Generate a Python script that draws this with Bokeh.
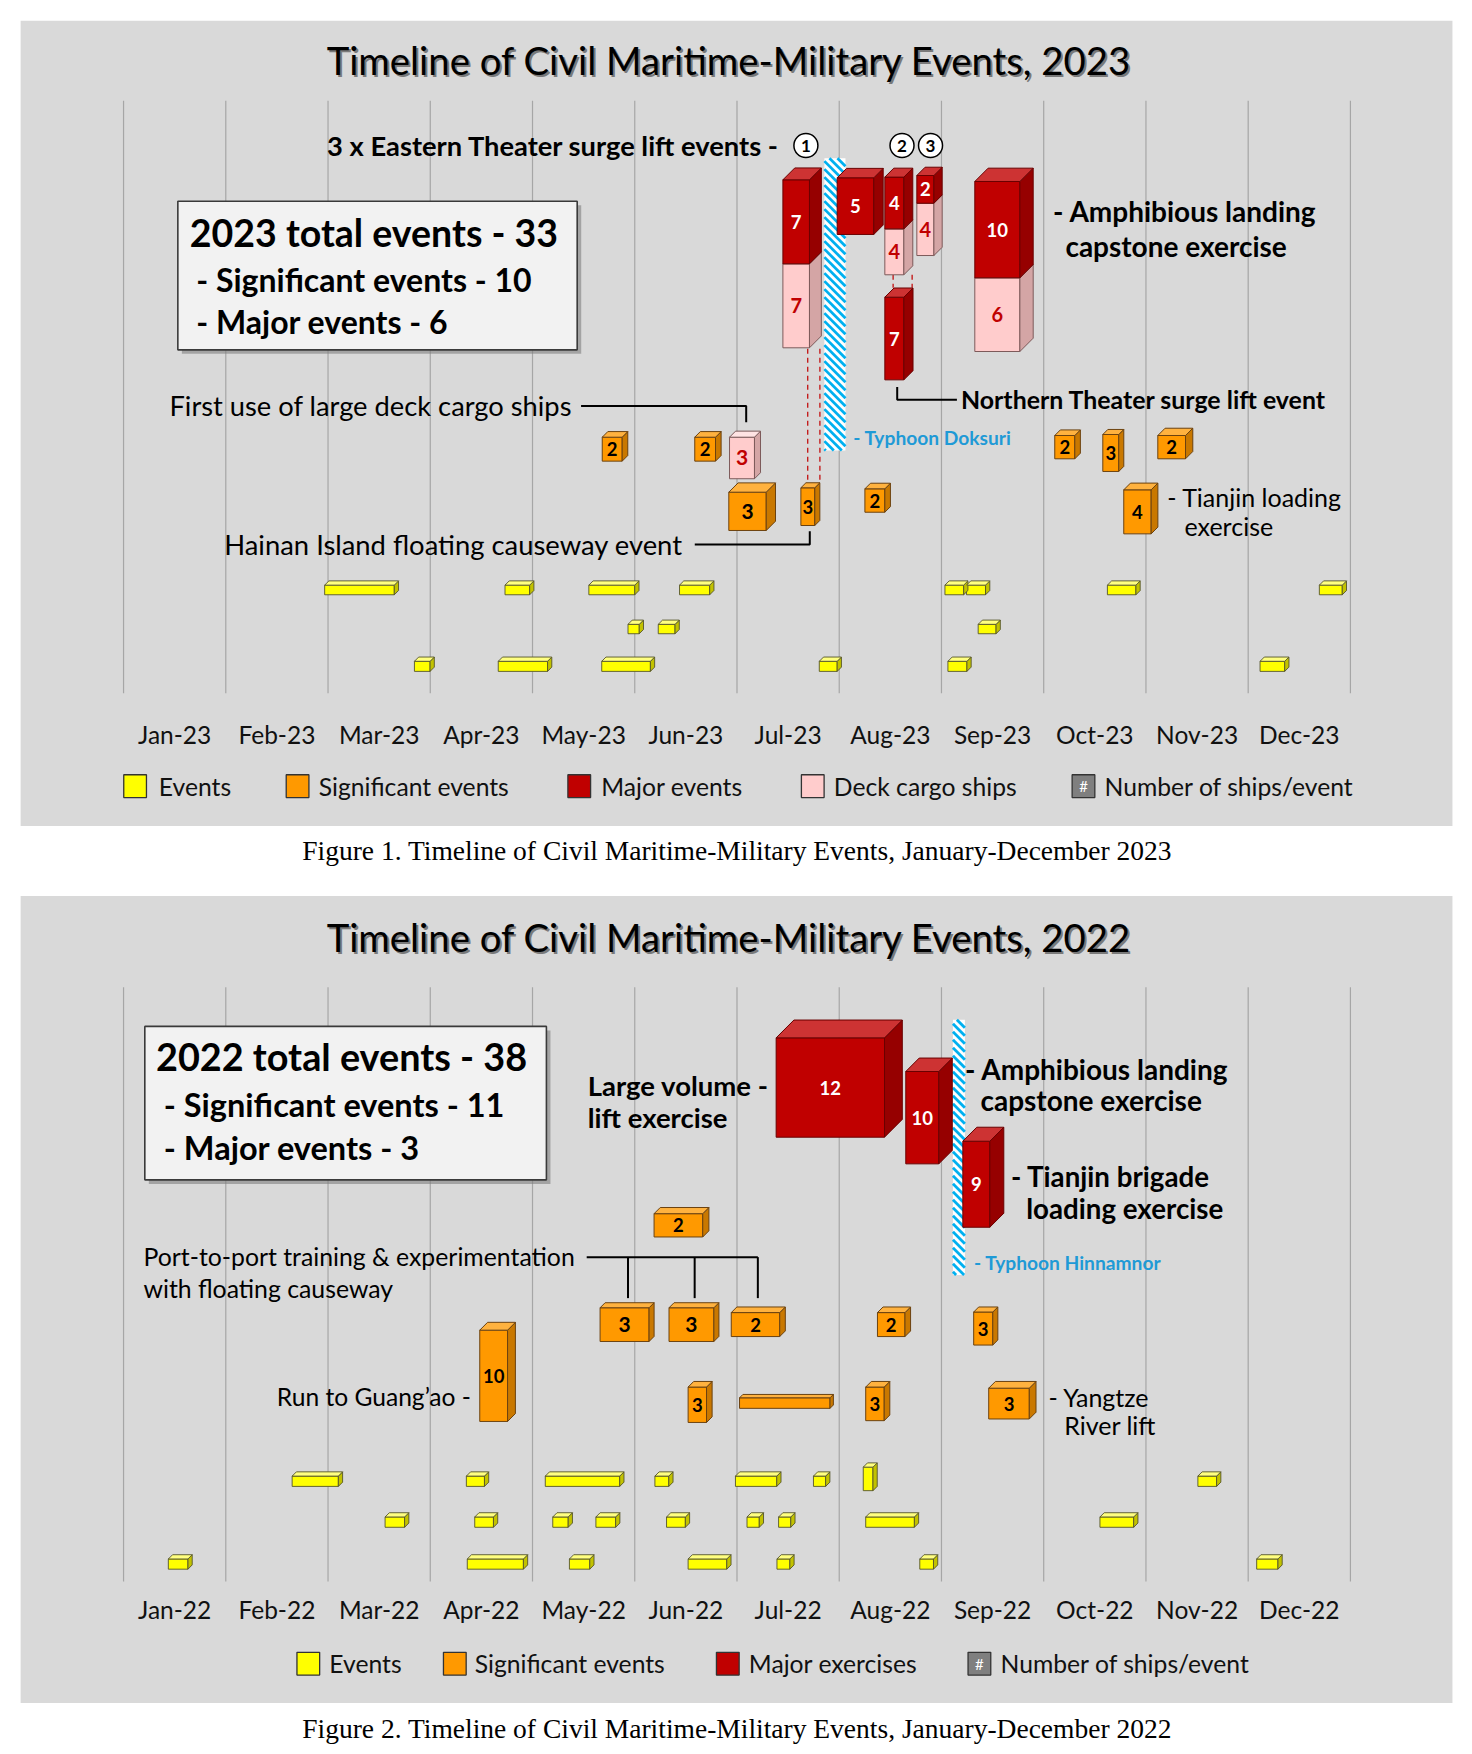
import numpy as np
from bokeh.plotting import figure
from bokeh.models import Range1d
from bokeh.core.properties import value
from bokeh.embed import file_html
from bokeh.resources import INLINE

# ====================== DATA ======================
# x values are in months since 1 January (0 = start of Jan, 12 = end of Dec)
months_2023 = ["Jan-23", "Feb-23", "Mar-23", "Apr-23", "May-23", "Jun-23",
               "Jul-23", "Aug-23", "Sep-23", "Oct-23", "Nov-23", "Dec-23"]
months_2022 = ["Jan-22", "Feb-22", "Mar-22", "Apr-22", "May-22", "Jun-22",
               "Jul-22", "Aug-22", "Sep-22", "Oct-22", "Nov-22", "Dec-22"]

# ---- 2023: events (yellow) ----
ev23_start = [1.967, 3.731, 4.551, 5.438, 8.034, 8.245, 9.623, 11.696,
              4.934, 5.230, 8.359,
              2.845, 3.665, 4.677, 6.805, 8.063, 11.116]
ev23_end = [2.648, 3.972, 5.000, 5.733, 8.217, 8.431, 9.902, 11.920,
            5.044, 5.394, 8.534,
            2.998, 4.147, 5.153, 6.980, 8.249, 11.357]
ev23_lane = [1] * 8 + [2] * 3 + [3] * 6

# ---- 2023: significant events (orange) ----
sig23_start = [4.682, 5.587, 5.920, 6.625, 7.251, 9.108, 9.578, 10.116, 9.783]
sig23_end = [4.877, 5.790, 6.286, 6.761, 7.446, 9.304, 9.734, 10.387, 10.051]
sig23_ships = [2, 2, 3, 3, 2, 2, 3, 2, 4]

# ---- 2023: significant event using deck cargo ships (pink) ----
deck23_start = [5.927]
deck23_end = [6.171]
deck23_ships = [3]

# ---- 2023: major events (red = ships, pink = deck cargo ships) ----
maj23_start = [6.449, 6.980, 7.446, 7.446, 7.759, 8.326]
maj23_end = [6.709, 7.338, 7.632, 7.632, 7.926, 8.767]
maj23_ships = [7, 5, 4, 7, 2, 10]
maj23_deck = [7, 0, 4, 0, 4, 6]

# ---- 2023: typhoon ----
typh23_start, typh23_end = 6.855, 7.061

# ---- 2022: events (yellow) ----
ev22_start = [1.649, 3.353, 4.125, 5.197, 5.985, 6.748, 7.235, 10.508,
              2.558, 3.435, 4.198, 4.620, 5.311, 6.098, 6.407, 7.259, 9.550,
              0.438, 3.362, 4.361, 5.522, 6.391, 7.788, 11.083]
ev22_end = [2.101, 3.530, 4.853, 5.333, 6.389, 6.867, 7.330, 10.691,
            2.749, 3.618, 4.349, 4.813, 5.495, 6.218, 6.526, 7.735, 9.880,
            0.630, 3.911, 4.560, 5.900, 6.517, 7.922, 11.291]
ev22_lane = [1] * 8 + [2] * 9 + [3] * 7

# ---- 2022: significant events (orange) ----
sig22_start = [5.189, 4.661, 5.335, 5.944, 7.374, 8.315, 3.484, 5.522, 6.025, 7.259, 8.462]
sig22_end = [5.665, 5.140, 5.774, 6.418, 7.643, 8.502, 3.756, 5.702, 6.910, 7.440, 8.859]
sig22_ships = ["2", "3", "3", "2", "2", "3", "10", "3", "", "3", "3"]

# ---- 2022: major exercises (red) ----
maj22_start = [6.383, 7.651, 8.209]
maj22_end = [7.443, 7.974, 8.473]
maj22_ships = [12, 10, 9]

# ---- 2022: typhoon ----
typh22_start, typh22_end = 8.112, 8.229

# ====================== LAYOUT (vertical placement, styles) ======================
# vertical unit: reference pixel rows, measured top-down
lane23 = {1: (522.0, 530.6), 2: (557.0, 565.4), 3: (590.0, 599.0)}
lane22 = {1: (1317.5, 1326.7), 2: (1354.0, 1363.2), 3: (1391.5, 1400.6)}
ev22_override = {6: (1309.5, 1330.5)}       # the tall narrow event in August
sig23_y = [(389.9, 411.3), (389.9, 411.3), (439.0, 473.2), (435.1, 468.75), (436.0, 456.9),
           (388.4, 409.2), (387.5, 420.5), (388.4, 409.2), (436.9, 476.2)]
sig23_depth = [5, 5, 8.3, 4.5, 5, 5, 4.5, 6.5, 6]
deck23_y = [(389.9, 427.0)]
deck23_depth = [5.4]
maj23_y = [(160.1, 235.1, 310.1), (158.3, 208.9, 208.9), (157.7, 203.9, 244.9),
           (264.9, 338.7, 338.7), (156.25, 181.0, 227.7), (161.6, 247.6, 313.4)]
maj23_depth = [10.6, 8.4, 8.0, 8.2, 7.4, 11.9]
typh23_y = (140.8, 401.8)
sig22_y = [(1083.2, 1104.0), (1167.2, 1197.3), (1167.2, 1197.3), (1171.5, 1192.9), (1171.5, 1192.9),
           (1171.0, 1200.5), (1187.2, 1268.7), (1238.0, 1269.6), (1247.6, 1257.0), (1238.0, 1268.0),
           (1239.0, 1266.5)]
sig22_depth = [5.5, 4.5, 4.5, 5, 5, 4.5, 7, 5, 3, 5, 6]
maj22_y = [(926.2, 1014.9), (956.25, 1038.7), (1018.5, 1095.3)]
maj22_depth = [15.9, 12.0, 12.5]
typh22_y = (910.1, 1138.0)
YEL_DEPTH = 3.8

C_YEL = ("#ffff00", "#ffff80", "#c2c200", "#55552a")
C_ORA = ("#ff9900", "#ffb23f", "#c97800", "#6b4210")
C_RED = ("#c00000", "#cd3333", "#960000", "#6a0000")
C_PNK = ("#ffcccc", "#ffe3e3", "#d4a5a5", "#7d5a5a")
PANEL = "#d9d9d9"
GRID = "#a6a6a6"
BLUE = "#1f9ad6"
FONT = "Lato"

# ====================== FIGURE ======================
W, H = 1456, 1752
PXM = 102.24                  # screen px per month
X0 = -123.05 / PXM
X1 = X0 + W / PXM
SY = 1.12
OFF = 0.0
Y_TOP = OFF / SY
Y_BOT = (H + OFF) / SY
MU = 91.4                     # reference px per month

p = figure(width=W, height=H, x_range=Range1d(X0, X1), y_range=Range1d(Y_BOT, Y_TOP),
           output_backend="svg", toolbar_location=None,
           x_axis_location=None, y_axis_location=None,
           min_border=0, min_border_left=0, min_border_right=0,
           min_border_top=0, min_border_bottom=0)
p.xgrid.visible = False
p.ygrid.visible = False
p.outline_line_color = None
p.background_fill_color = "white"
p.border_fill_color = "white"


def txt(x, y, s, size, bold=False, align="left", color="black", font=FONT, **kw):
    p.text(x=[x], y=[y], text=[s], text_font=value(font), text_font_size=f"{size}px",
           text_font_style="bold" if bold else "normal", text_align=align,
           text_baseline="middle", text_color=color, **kw)


def boxes(x0, x1, yt, yb, depth, cols, lw=1.0, top=True):
    x0 = np.asarray(x0, float); x1 = np.asarray(x1, float)
    yt = np.asarray(yt, float); yb = np.asarray(yb, float)
    dd = np.asarray(depth, float) * np.ones_like(x0)
    dm = dd / MU
    front, topc, side, line = cols
    p.quad(left=x0, right=x1, top=yt, bottom=yb, fill_color=front, line_color=line, line_width=lw)
    sx = [[b, b + m, b + m, b] for b, m in zip(x1, dm)]
    sy = [[t, t - e, u - e, u] for t, u, e in zip(yt, yb, dd)]
    p.patches(sx, sy, fill_color=side, line_color=line, line_width=lw)
    if top:
        tx = [[a, a + m, b + m, b] for a, b, m in zip(x0, x1, dm)]
        ty = [[t, t - e, t - e, t] for t, e in zip(yt, dd)]
        p.patches(tx, ty, fill_color=topc, line_color=line, line_width=lw)


def labels(x0, x1, yt, yb, texts, color, sizes):
    xc = [(a + b) / 2 for a, b in zip(x0, x1)]
    yc = [(t + u) / 2 for t, u in zip(yt, yb)]
    for x, y, s, z in zip(xc, yc, texts, sizes):
        if s != "":
            txt(x, y, str(s), z, bold=True, align="center", color=color)


def stripes(a, b, t, u, period=8.0):
    L, R = (a - X0) * PXM, (b - X0) * PXM
    T, B = SY * t - OFF, SY * u - OFF
    xs, ys = [], []
    c = T - R
    while c < B - L:
        xa = max(L, T - c); xb = min(R, B - c)
        if xb > xa:
            xs.append([xa / PXM + X0, xb / PXM + X0])
            ys.append([(xa + c + OFF) / SY, (xb + c + OFF) / SY])
        c += period
    return xs, ys


def lbl_size(x0, x1, yt, yb):
    return [21 if ((b - a) * MU >= 30 and (u - t) >= 29) else 18.5 for a, b, t, u in zip(x0, x1, yt, yb)]


def panel(ptop, pbot, gtop, gbot, title, ytitle, months, ylab, yleg, items, caption, ycap):
    p.quad(left=[(18 - 110) / MU], right=[(1298 - 110) / MU], top=[ptop], bottom=[pbot],
           fill_color=PANEL, line_color=None)
    p.segment(x0=list(range(13)), y0=[gtop] * 13, x1=list(range(13)), y1=[gbot] * 13,
              line_color=GRID, line_width=1.2)
    txt(5.924, ytitle, title, 38.3, color="#7a7a7a", align="center", x_offset=2, y_offset=2)
    txt(5.924, ytitle, title, 38.3, align="center")
    p.text(x=[i + 0.5 for i in range(12)], y=[ylab] * 12, text=months, text_font=value(FONT),
           text_font_size="24.5px", text_align="center", text_baseline="middle", text_color="#111111")
    for sxm, tx, col, label in items:
        p.quad(left=[sxm], right=[sxm + 20.3 / MU], top=[yleg - 10.2], bottom=[yleg + 10.2],
               fill_color=col, line_color="#333333", line_width=1.3)
        if label.startswith("Number"):
            txt(sxm + 10.15 / MU, yleg, "#", 15, color="white", align="center")
        txt(tx, yleg, label, 24.7, color="#111111")
    txt(6.001, ycap, caption, 27.5, align="center", font="Liberation Serif")


def textbox(l, r, t, b, lines):
    sh = 3.6
    p.quad(left=[l + sh / MU], right=[r + sh / MU], top=[t + sh], bottom=[b + sh],
           fill_color="#7f7f7f", fill_alpha=0.6, line_color=None)
    p.quad(left=[l], right=[r], top=[t], bottom=[b], fill_color="#f2f2f2",
           line_color="#3a3a3a", line_width=1.6)
    for x, y, s, z in lines:
        txt(x, y, s, z, bold=True)


# ====================== CHART 1 : 2023 ======================
panel(18, 737, 89.5, 618.5, "Timeline of Civil Maritime-Military Events, 2023", 53.5, months_2023,
      655.5, 701.5,
      [(0.002, 0.345, C_YEL[0], "Events"), (1.591, 1.909, C_ORA[0], "Significant events"),
       (4.346, 4.672, C_RED[0], "Major events"), (6.630, 6.947, C_PNK[0], "Deck cargo ships"),
       (9.278, 9.595, "#7f7f7f", "Number of ships/event")],
      "Figure 1. Timeline of Civil Maritime-Military Events, January-December 2023", 759)

textbox(0.531, 4.437, 179.2, 311.9,
        [(0.648, 207.5, "2023 total events - 33", 37.5),
         (0.711, 249.5, "- Significant events - 10", 32),
         (0.711, 287.0, "- Major events - 6", 32)])

# typhoon band
xs, ys = stripes(typh23_start, typh23_end, *typh23_y)
p.quad(left=[typh23_start], right=[typh23_end], top=[typh23_y[0]], bottom=[typh23_y[1]],
       fill_color="white", line_color=None)
p.multi_line(xs, ys, line_color="#00b0f0", line_width=2.8)
txt(7.137, 389.9, "- Typhoon Doksuri", 19.2, bold=True, color=BLUE)

# dashed connectors
p.segment(x0=[6.692, 6.811, 7.527, 7.713], y0=[311.0, 311.0, 244.9, 244.9],
          x1=[6.692, 6.811, 7.527, 7.713], y1=[431.0, 431.0, 256.5, 256.5],
          line_color="#c00000", line_width=1.2, line_dash="5 4")

# brackets
p.multi_line([[4.475, 6.090, 6.090], [5.587, 6.712, 6.712], [8.151, 7.567, 7.567]],
             [[362.0, 362.0, 376.5], [485.7, 485.7, 473.8], [356.5, 356.5, 345.2]],
             line_color="black", line_width=2)

# events
ey0 = [lane23[l][0] for l in ev23_lane]
ey1 = [lane23[l][1] for l in ev23_lane]
boxes(ev23_start, ev23_end, ey0, ey1, YEL_DEPTH, C_YEL, lw=0.9)

# significant
st = [a for a, b in sig23_y]; sb = [b for a, b in sig23_y]
boxes(sig23_start, sig23_end, st, sb, sig23_depth, C_ORA)
labels(sig23_start, sig23_end, st, sb, sig23_ships, "black", lbl_size(sig23_start, sig23_end, st, sb))
dt = [a for a, b in deck23_y]; db = [b for a, b in deck23_y]
boxes(deck23_start, deck23_end, dt, db, deck23_depth, C_PNK)
labels(deck23_start, deck23_end, dt, db, deck23_ships, "#c00000", [21])

# major: deck-cargo (pink) parts first, then red parts
pk = [i for i, d in enumerate(maj23_deck) if d > 0]
boxes([maj23_start[i] for i in pk], [maj23_end[i] for i in pk],
      [maj23_y[i][1] for i in pk], [maj23_y[i][2] for i in pk],
      [maj23_depth[i] for i in pk], C_PNK)
boxes(maj23_start, maj23_end, [y[0] for y in maj23_y], [y[1] for y in maj23_y], maj23_depth, C_RED)
labels(maj23_start, maj23_end, [y[0] for y in maj23_y], [y[1] for y in maj23_y],
       maj23_ships, "white", [18.5] * len(maj23_ships))
labels([maj23_start[i] for i in pk], [maj23_end[i] for i in pk],
       [maj23_y[i][1] for i in pk], [maj23_y[i][2] for i in pk],
       [maj23_deck[i] for i in pk], "#c00000", [20] * len(pk))

# annotations
txt(1.991, 129.5, "3 x Eastern Theater surge lift events -", 27.3, bold=True)
p.scatter(x=[6.674, 7.614, 7.893], y=[129.5] * 3, size=24, marker="circle",
          fill_color="white", line_color="black", line_width=1.5)
for x, s in zip([6.674, 7.614, 7.893], ["1", "2", "3"]):
    txt(x, 130.0, s, 17, bold=True, align="center")
txt(9.092, 188.0, "- Amphibious landing", 28, bold=True)
txt(9.212, 219.0, "capstone exercise", 28, bold=True)
txt(8.191, 356.0, "Northern Theater surge lift event", 24.9, bold=True)
txt(0.449, 362.0, "First use of large deck cargo ships", 27.3)
txt(0.985, 486.0, "Hainan Island floating causeway event", 27.4)
txt(10.208, 443.5, "- Tianjin loading", 25)
txt(10.377, 469.5, "exercise", 25)

# ====================== CHART 2 : 2022 ======================
panel(799.5, 1520, 881, 1411.5, "Timeline of Civil Maritime-Military Events, 2022", 836.0, months_2022,
      1437, 1485,
      [(1.696, 2.013, C_YEL[0], "Events"), (3.129, 3.435, C_ORA[0], "Significant events"),
       (5.799, 6.116, C_RED[0], "Major exercises"), (8.260, 8.578, "#7f7f7f", "Number of ships/event")],
      "Figure 2. Timeline of Civil Maritime-Military Events, January-December 2022", 1543)

textbox(0.208, 4.136, 916.0, 1053.0,
        [(0.317, 943.0, "2022 total events - 38", 37.8),
         (0.394, 986.0, "- Significant events - 11", 32.5),
         (0.394, 1024.0, "- Major events - 3", 32.5)])

xs, ys = stripes(typh22_start, typh22_end, *typh22_y)
p.quad(left=[typh22_start], right=[typh22_end], top=[typh22_y[0]], bottom=[typh22_y[1]],
       fill_color="white", line_color=None)
p.multi_line(xs, ys, line_color="#00b0f0", line_width=2.8)
txt(8.319, 1127.0, "- Typhoon Hinnamnor", 19.2, bold=True, color=BLUE)

p.multi_line([[4.530, 6.204], [4.934, 4.934], [5.586, 5.586], [6.204, 6.204]],
             [[1122.0, 1122.0], [1122.0, 1158.6], [1122.0, 1158.6], [1122.0, 1158.6]],
             line_color="black", line_width=2)

ey0 = [ev22_override.get(i, lane22[l])[0] for i, l in enumerate(ev22_lane)]
ey1 = [ev22_override.get(i, lane22[l])[1] for i, l in enumerate(ev22_lane)]
boxes(ev22_start, ev22_end, ey0, ey1, YEL_DEPTH, C_YEL, lw=0.9)

st = [a for a, b in sig22_y]; sb = [b for a, b in sig22_y]
boxes(sig22_start, sig22_end, st, sb, sig22_depth, C_ORA)
labels(sig22_start, sig22_end, st, sb, sig22_ships, "black", lbl_size(sig22_start, sig22_end, st, sb))

mt = [a for a, b in maj22_y]; mb = [b for a, b in maj22_y]
boxes(maj22_start, maj22_end, mt, mb, maj22_depth, C_RED)
labels(maj22_start, maj22_end, mt, mb, maj22_ships, "white", [18.5] * 3)

txt(4.540, 968.5, "Large volume -", 27.5, bold=True)
txt(4.540, 997.0, "lift exercise", 27.5, bold=True)
txt(8.230, 954.0, "- Amphibious landing", 28, bold=True)
txt(8.381, 982.0, "capstone exercise", 28, bold=True)
txt(8.679, 1050.0, "- Tianjin brigade", 27.7, bold=True)
txt(8.829, 1079.0, "loading exercise", 27.7, bold=True)
txt(0.195, 1121.5, "Port-to-port training & experimentation", 24.8)
txt(0.195, 1150.0, "with floating causeway", 24.8)
txt(1.499, 1246.0, "Run to Guang\u2019ao -", 24.6)
txt(9.046, 1246.5, "- Yangtze", 25)
txt(9.201, 1271.5, "River lift", 25)

open("out.html", "w").write(file_html(p, INLINE))
